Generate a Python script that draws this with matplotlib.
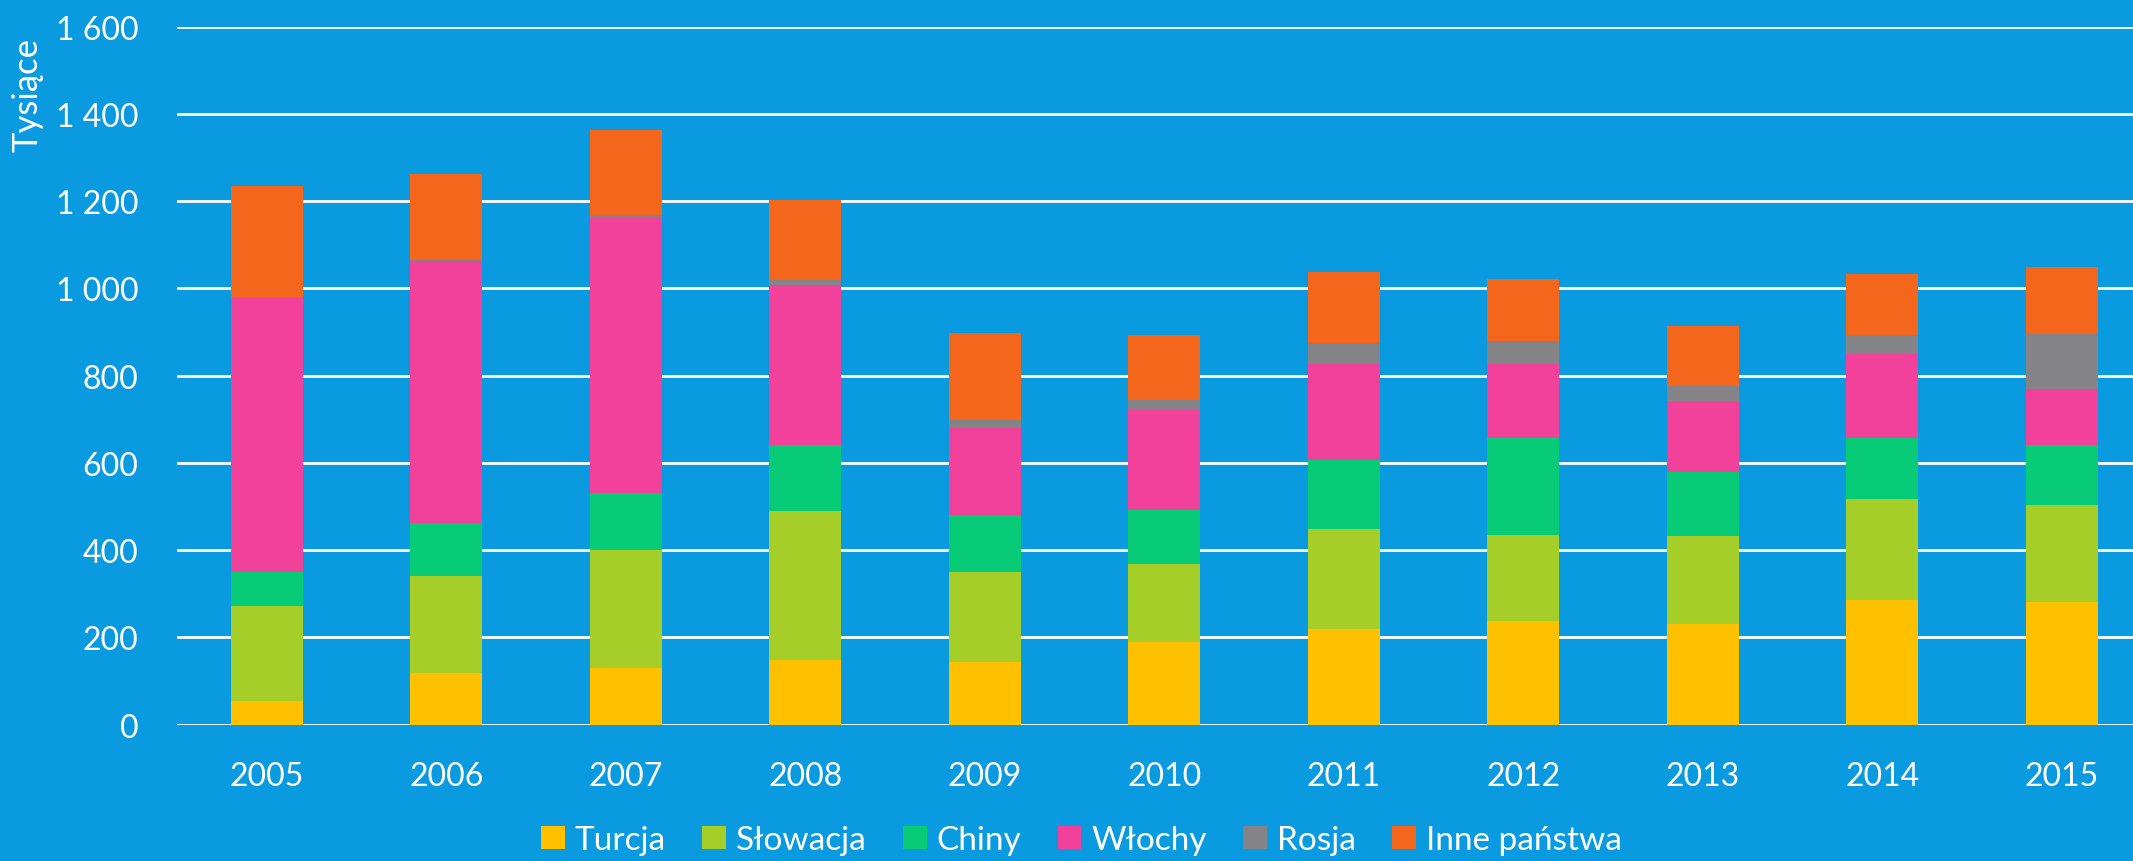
import matplotlib
matplotlib.use("Agg")
import matplotlib.pyplot as plt
import numpy as np

years = ["2005", "2006", "2007", "2008", "2009", "2010", "2011", "2012", "2013", "2014", "2015"]
turcja   = [55, 119, 129, 147, 144, 189, 219, 238, 230, 286, 281]
slowacja = [218, 222, 272, 342, 205, 179, 230, 196, 202, 231, 222]
chiny    = [76, 121, 130, 151, 132, 125, 158, 223, 146, 140, 139]
wlochy   = [630, 601, 630, 368, 198, 228, 219, 170, 164, 193, 128]
rosja    = [2, 4, 7, 10, 19, 23, 48, 52, 35, 42, 126]
inne     = [254, 194, 195, 184, 200, 148, 163, 143, 137, 141, 154]

series_names = ["Turcja", "Słowacja", "Chiny", "Włochy", "Rosja", "Inne państwa"]
series_vals = [turcja, slowacja, chiny, wlochy, rosja, inne]
colors = ["#FFC000", "#A5CF28", "#08CB78", "#F2419A", "#838388", "#F4661B"]
yticks = [0, 200, 400, 600, 800, 1000, 1200, 1400, 1600]
ytick_labels = ["0", "200", "400", "600", "800", "1 000", "1 200", "1 400", "1 600"]

bg = "#0A9ADF"
plt.rcParams['font.family'] = ['Lato', 'DejaVu Sans']

fig = plt.figure(figsize=(21.33, 8.62), dpi=100, facecolor=bg)
ax = fig.add_axes([0.083, 0.1582, 0.917, 0.8098])
ax.set_facecolor(bg)

x = np.arange(len(years))
bottom = np.zeros(len(years))
handles = []
for name, vals, c in zip(series_names, series_vals, colors):
    v = np.array(vals, dtype=float)
    b = ax.bar(x, v, width=0.4, bottom=bottom, color=c, label=name, zorder=3)
    handles.append(b)
    bottom += v

ax.set_ylim(0, 1600)
ax.set_xlim(-0.5, -0.5 + (2133 - 177) / 179.5)
ax.set_yticks(yticks)
ax.set_yticklabels(ytick_labels)
ax.set_xticks(x)
ax.set_xticklabels(years)
ax.yaxis.grid(True, color="white", linewidth=2, zorder=0)
ax.set_axisbelow(True)
for s in ax.spines.values():
    s.set_visible(False)
ax.tick_params(axis="both", length=0, colors="white", labelsize=23)
ax.tick_params(axis="y", pad=28)
ax.tick_params(axis="x", pad=26)

fig.text(0.0127, 0.89, "Tysiące", rotation=90, color="white", fontsize=25,
         ha="center", va="center")

leg = fig.legend(handles=handles, labels=series_names, loc="center",
                 bbox_to_anchor=(0.507, 0.024), ncol=6, frameon=False,
                 fontsize=24, handlelength=0.7, handleheight=0.7,
                 handletextpad=0.3, columnspacing=1.1)
for t in leg.get_texts():
    t.set_color("white")

fig.savefig("out.png", dpi=100, facecolor=bg)
